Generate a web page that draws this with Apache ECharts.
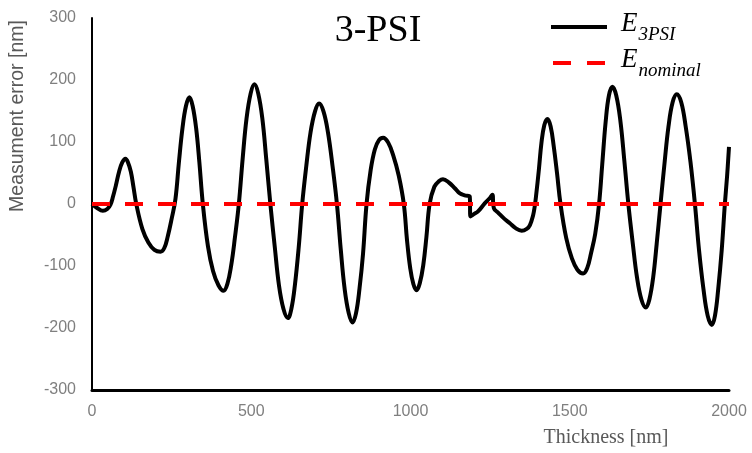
<!DOCTYPE html>
<html>
<head>
<meta charset="utf-8">
<script src="https://cdn.jsdelivr.net/npm/echarts@6/dist/echarts.min.js"></script>
<style>
  html, body { margin: 0; padding: 0; background: #fff; }
  #chart { width: 752px; height: 453px; }
</style>
</head>
<body>
<div id="chart"></div>
<script>
// Film thickness [nm]
const thickness = [
  0, 15, 34, 48, 58, 66,
  75, 85, 95, 105, 113, 122, 130, 139,
  158, 177, 196, 215, 227, 238, 250, 262,
  273, 284, 295, 306, 316, 327, 337, 348,
  364, 380, 397, 413, 425, 437, 449, 461,
  473, 485, 498, 510, 522, 535, 547, 560,
  574, 587, 601, 615, 626, 637, 649, 660,
  673, 686, 700, 713, 727, 741, 755, 769,
  781, 793, 806, 818, 829, 840, 851, 862,
  875, 888, 901, 914, 930, 946, 963, 979,
  989, 999, 1009, 1019, 1029, 1040, 1050, 1060,
  1075, 1090, 1102, 1120, 1140, 1155, 1170, 1186, 1188, 1200, 1212, 1233, 1250, 1257, 1262, 1275, 1295, 1312, 1330, 1349, 1365, 1375, 1385, 1390, 1394,
  1403, 1411, 1420, 1430, 1440, 1450, 1460, 1471,
  1489, 1507, 1524, 1542, 1555, 1567, 1580, 1592,
  1602, 1613, 1623, 1634, 1646, 1659, 1671, 1684,
  1698, 1711, 1725, 1739, 1750, 1762, 1773, 1785,
  1798, 1810, 1823, 1836, 1850, 1864, 1879, 1893,
  1906, 1920, 1933, 1946, 1956, 1966, 1977, 1987,
  1994, 2000
];
// Measurement error of the 3-step phase-shifting method [nm]
const error3psi = [
  0, -6, -11, -8, -1, 12,
  30, 52, 67, 73, 67, 52, 28, 0,
  -40, -62, -74, -77, -71, -52, -24, 8,
  68, 122, 158, 172, 158, 122, 68, 0,
  -68, -108, -131, -140, -129, -99, -53, 0,
  73, 137, 178, 193, 178, 137, 73, 0,
  -70, -131, -169, -184, -169, -131, -70, 0,
  62, 115, 149, 162, 149, 115, 62, 0,
  -73, -136, -176, -191, -176, -136, -80, 0,
  55, 88, 103, 107, 99, 78, 46, 0,
  -58, -103, -129, -139, -128, -99, -53, 0,
  28, 37, 40, 35, 25, 17, 14, 12, -20, -16, -12, 1, 10, 15, -7, -14, -24, -31, -39, -43, -40, -34, -18, -4, 12,
  55, 98, 127, 137, 125, 92, 50, 0,
  -55, -88, -106, -112, -103, -79, -48, 0,
  64, 134, 175, 189, 175, 134, 72, 0,
  -64, -118, -154, -167, -154, -118, -64, 0,
  68, 125, 164, 177, 164, 125, 68, 0,
  -75, -138, -180, -195, -180, -138, -75, 0,
  45, 92
];
// Nominal (zero) error reference
const nominalThickness = [0, 2000];
const nominalError = [0, 0];

const xTicks = [0, 500, 1000, 1500, 2000];
const yTicks = [-300, -200, -100, 0, 100, 200, 300];

const zip = (xs, ys) => xs.map((x, i) => [x, ys[i]]);

const chart = echarts.init(document.getElementById('chart'), null, { renderer: 'canvas' });

const serif = '"Liberation Serif", "Times New Roman", serif';
const sans = '"Liberation Sans", Arial, sans-serif';

chart.setOption({
  animation: false,
  backgroundColor: '#ffffff',
  title: {
    text: '3-PSI',
    left: 378,
    top: 12,
    padding: 0,
    textAlign: 'center',
    textStyle: { fontFamily: serif, fontSize: 38, fontWeight: 'normal', color: '#000' }
  },
  legend: {
    orient: 'vertical',
    left: 551,
    top: 10,
    padding: 0,
    itemGap: 2,
    itemWidth: 56,
    itemHeight: 4,
    selectedMode: false,
    data: [
      { name: 'E_3PSI', icon: 'path://M0,0H56V4H0Z' },
      { name: 'E_nominal', icon: 'path://M0,0H18V4H0ZM34,0H52V4H34Z' }
    ],
    formatter: name => name === 'E_3PSI' ? '{e|E}{s|3PSI}' : '{e|E}{s|nominal}',
    textStyle: {
      rich: {
        e: { fontFamily: serif, fontStyle: 'italic', fontSize: 27, color: '#000', verticalAlign: 'top', padding: [0, 0, 0, 9] },
        s: { fontFamily: serif, fontStyle: 'italic', fontSize: 19, color: '#000', verticalAlign: 'bottom', padding: [15, 0, 0, 1] }
      }
    }
  },
  grid: { left: 92, right: 23, top: 18, bottom: 63, outerBoundsMode: 'none' },
  xAxis: {
    type: 'value',
    min: xTicks[0],
    max: xTicks[xTicks.length - 1],
    interval: 500,
    name: 'Thickness [nm]',
    nameLocation: 'middle',
    nameGap: 38,
    nameTextStyle: { fontFamily: serif, fontSize: 20, color: '#595959', padding: [0, 0, 0, 391] },
    axisLine: { onZero: false, lineStyle: { color: '#000', width: 3 } },
    axisTick: { show: false },
    splitLine: { show: false },
    axisLabel: { color: '#7f7f7f', fontFamily: sans, fontSize: 16, margin: 14, formatter: v => String(v) }
  },
  yAxis: {
    type: 'value',
    min: yTicks[0],
    max: yTicks[yTicks.length - 1],
    interval: 100,
    name: 'Measument error [nm]',
    nameLocation: 'middle',
    nameGap: 64,
    nameTextStyle: { fontFamily: sans, fontSize: 19.5, color: '#595959', padding: [0, 0, 0, 176] },
    axisLine: { lineStyle: { color: '#000', width: 2 } },
    axisTick: { show: false },
    splitLine: { show: false },
    axisLabel: { color: '#7f7f7f', fontFamily: sans, fontSize: 16, margin: 16, formatter: v => String(v) }
  },
  series: [
    {
      name: 'E_3PSI',
      type: 'line',
      data: zip(thickness, error3psi),
      smooth: 0.4,
      showSymbol: false,
      color: '#000',
      lineStyle: { color: '#000', width: 4 }
    },
    {
      name: 'E_nominal',
      type: 'line',
      data: zip(nominalThickness, nominalError),
      showSymbol: false,
      color: '#ff0000',
      lineStyle: { color: '#ff0000', width: 4, type: [18, 15] }
    }
  ]
});
</script>
</body>
</html>
